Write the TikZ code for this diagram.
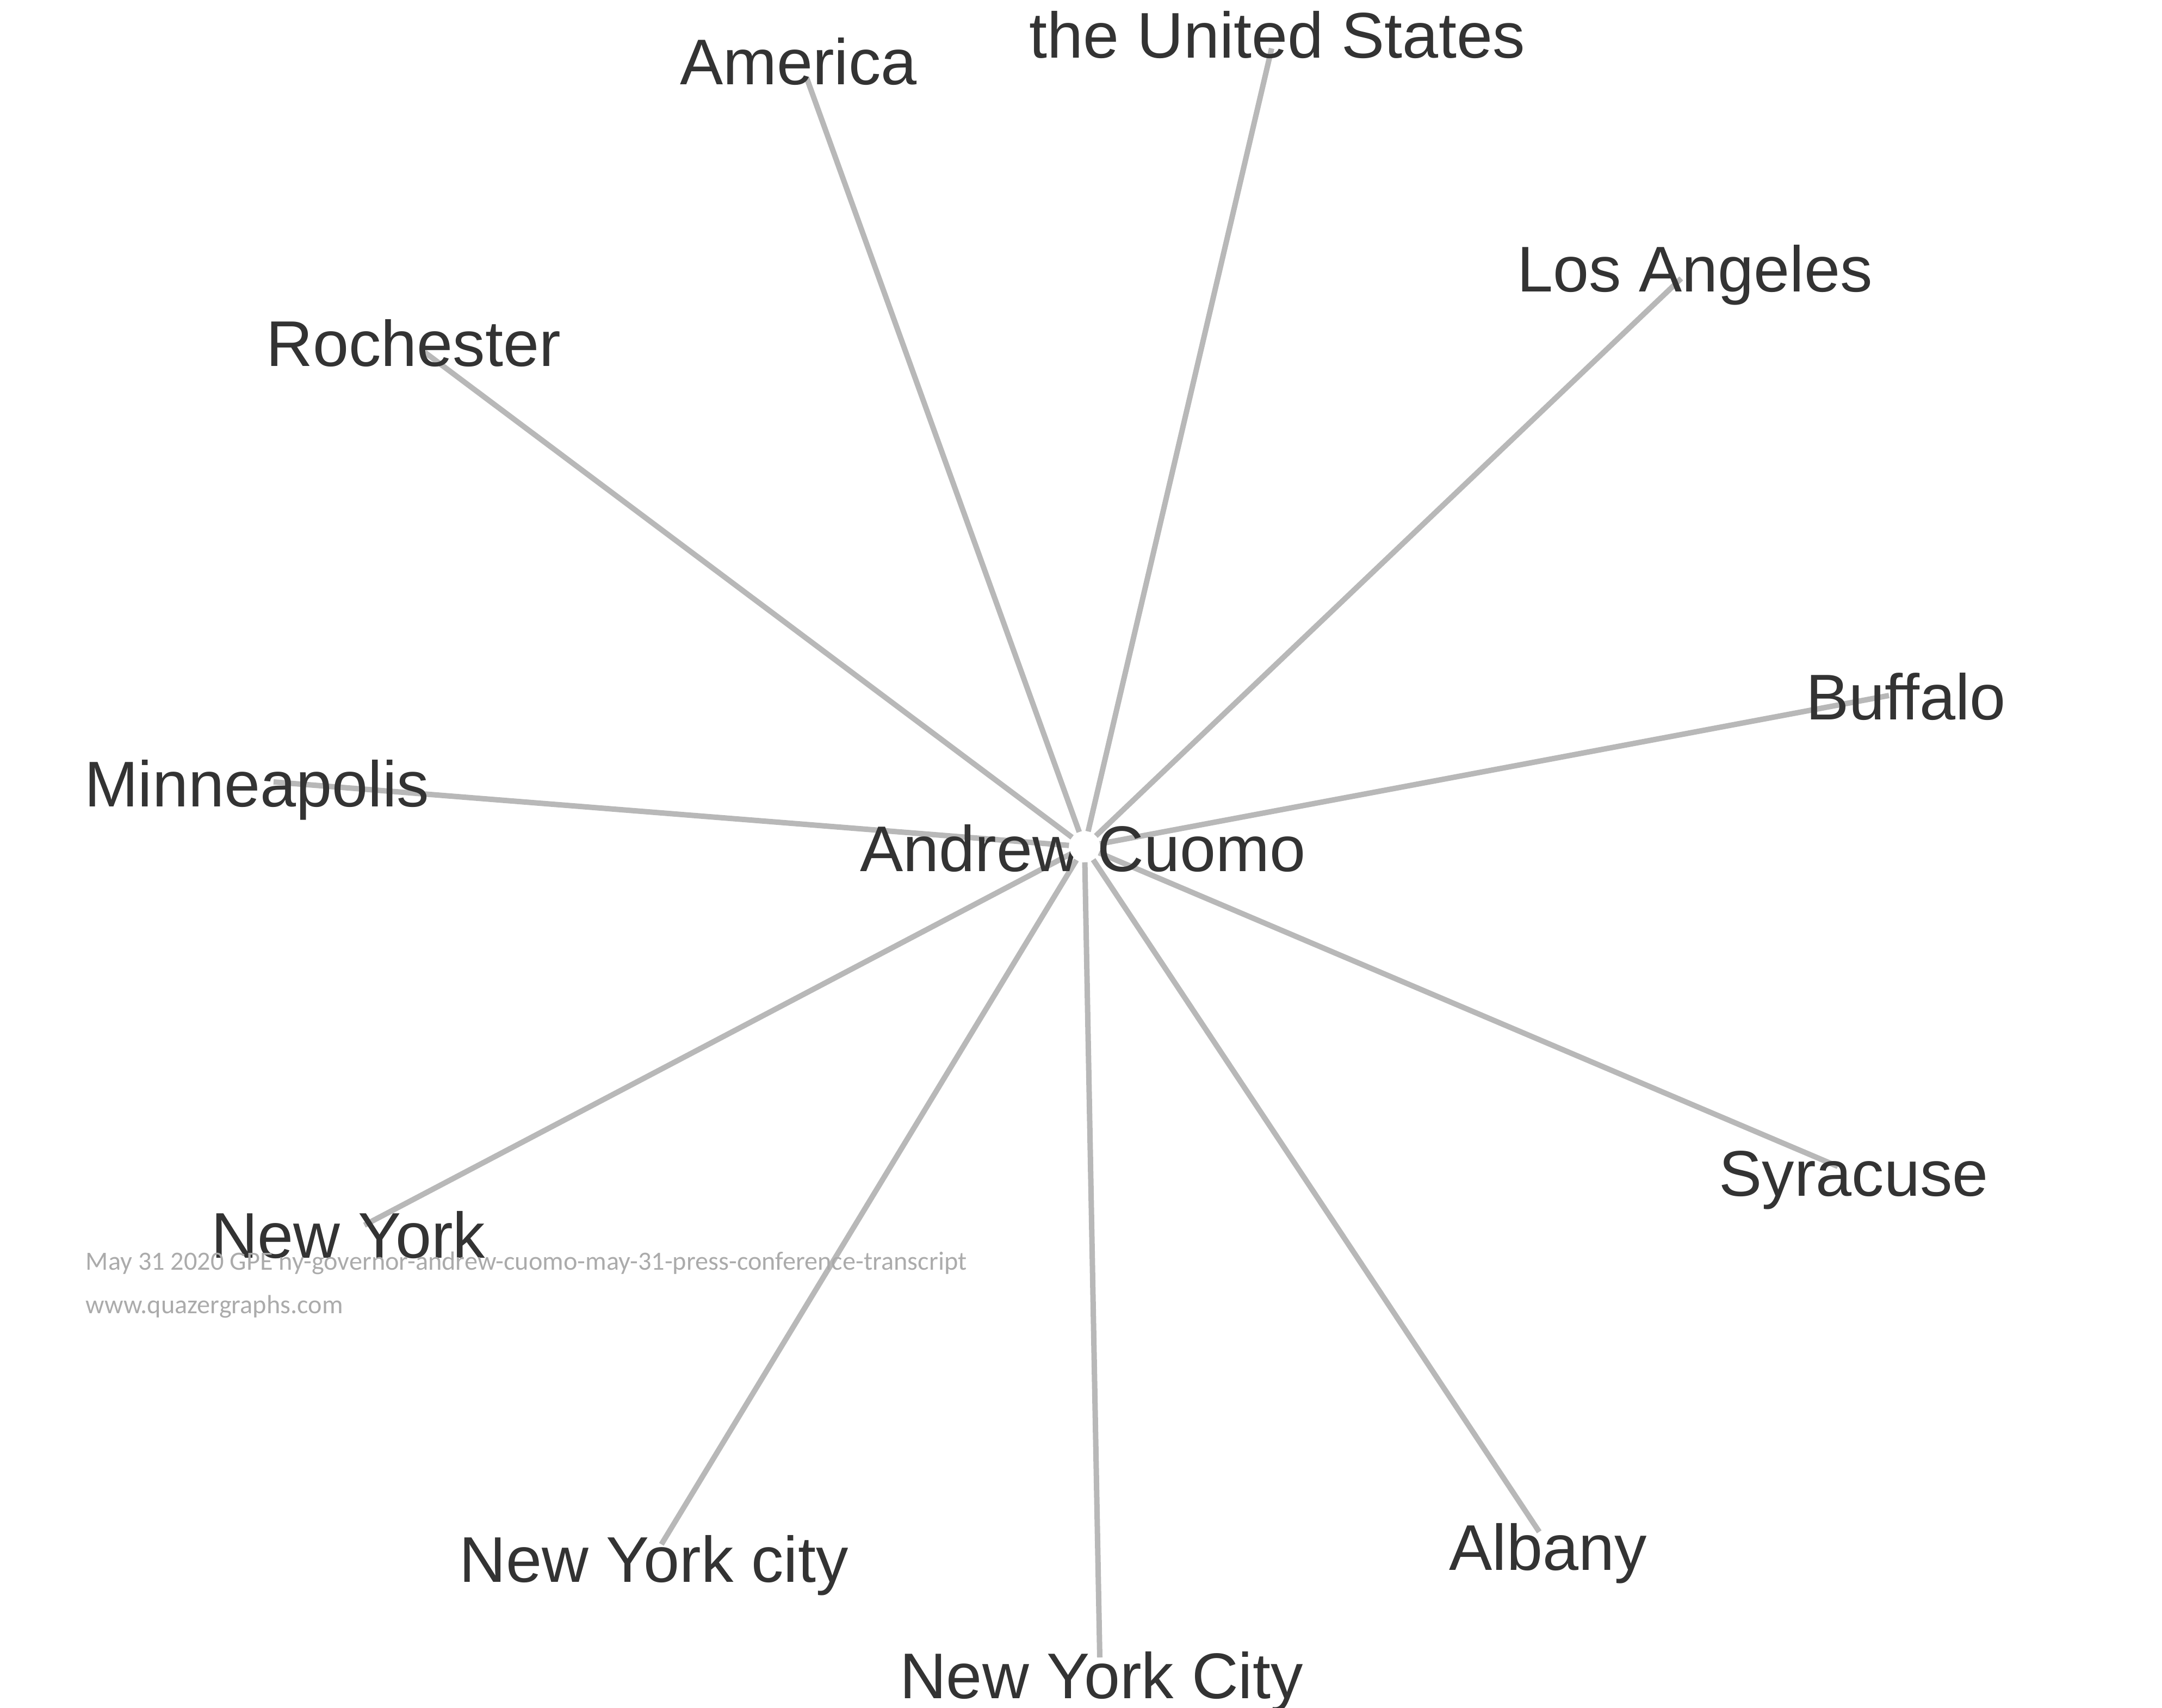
\documentclass[tikz,border=0pt]{standalone}
\usepackage{fontspec}
\setmainfont{Liberation Sans}
\newfontfamily\notefont{Carlito}
\definecolor{edgegray}{HTML}{B8B8B8}
\definecolor{labeltext}{HTML}{333333}
\definecolor{notegray}{HTML}{ABABAB}
\tikzset{
  lbl/.style={anchor=base, inner sep=0pt, text=labeltext, font=\fontsize{33.8}{40}\selectfont},
  link/.style={draw=edgegray, line width=2.85pt},
  hub/.style={circle, draw=none, inner sep=0pt, minimum size=0.56cm},
  note/.style={anchor=base west, inner sep=0pt, text=notegray, font=\notefont\fontsize{13.75}{16}\selectfont}
}
\begin{document}
\begin{tikzpicture}
\useasboundingbox (0,0) rectangle (39.75,-31.40);
% hub
\node[hub] (c) at (19.94,-15.57) {};
% edge end points
\coordinate (eAmerica) at (14.83,-1.43);
\coordinate (eUS) at (23.38,-0.89);
\coordinate (eLA) at (30.91,-5.12);
\coordinate (eRoch) at (7.81,-6.48);
\coordinate (eBuf) at (34.73,-12.79);
\coordinate (eMinn) at (5.03,-14.38);
\coordinate (eSyr) at (33.79,-21.45);
\coordinate (eNY) at (6.70,-22.53);
\coordinate (eNYc) at (12.16,-28.40);
\coordinate (eNYC) at (20.22,-30.48);
\coordinate (eAlb) at (28.30,-28.17);
% connectors
\foreach \t in {eAmerica,eUS,eLA,eRoch,eBuf,eMinn,eSyr,eNY,eNYc,eNYC,eAlb}
  \draw[link] (c) -- (\t);
% labels
\node[lbl] (lAmerica) at (14.68,-1.55) {America};
\node[lbl] (lUS) at (23.48,-1.06) {the United States};
\node[lbl] (lLA) at (31.16,-5.36) {Los Angeles};
\node[lbl] (lRoch) at (7.60,-6.73) {Rochester};
\node[lbl] (lBuf) at (35.04,-13.23) {Buffalo};
\node[lbl] (lMinn) at (4.72,-14.83) {Minneapolis};
\node[lbl] (lSyr) at (34.08,-21.99) {Syracuse};
\node[lbl] (lNY) at (6.40,-23.13) {New York};
\node[lbl] (lNYc) at (12.02,-29.09) {New York city};
\node[lbl] (lNYC) at (20.25,-31.23) {New York City};
\node[lbl] (lAlb) at (28.46,-28.87) {Albany};
\node[lbl] (lCuomo) at (19.91,-16.02) {Andrew Cuomo};
% hub disc on top
\fill[white] (c) circle (0.28);
% footnote
\node[note] (n1) at (1.57,-23.35) {May 31 2020 GPE ny-governor-andrew-cuomo-may-31-press-conference-transcript};
\node[note] (n2) at (1.57,-24.15) {www.quazergraphs.com};
\end{tikzpicture}
\end{document}
